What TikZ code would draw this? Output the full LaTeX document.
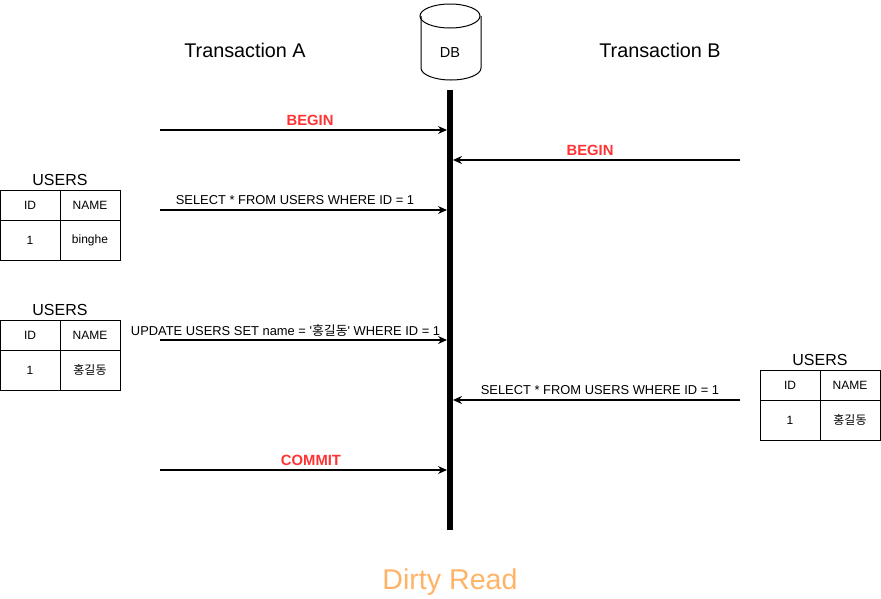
\documentclass[tikz,border=0pt]{standalone}
\usepackage{fontspec}
\setmainfont{Liberation Sans}
\newfontfamily\plainf{Liberation Sans}[Ligatures=TeXOff]
\newfontfamily\kr{Noto Sans CJK KR}
\usetikzlibrary{arrows.meta}
\definecolor{lblred}{HTML}{FF3333}
\definecolor{orng}{HTML}{FFB366}
\begin{document}
\begin{tikzpicture}[x=1pt,y=1pt,
  arr/.style={line width=1.5pt,-{Stealth[length=9pt,width=8pt,inset=3pt]}},
  lbl/.style={font=\fontsize{12.9}{15}\selectfont, inner sep=0pt},
  redlbl/.style={font=\fontsize{14.8}{17}\selectfont\bfseries, text=lblred, inner sep=0pt},
  title/.style={font=\fontsize{19.8}{23}\selectfont, inner sep=0pt},
  tname/.style={font=\fontsize{16}{18}\selectfont, inner sep=0pt},
  cell/.style={draw, line width=1pt, minimum width=60pt, inner sep=0pt, font=\fontsize{12}{14}\selectfont},
  hcell/.style={cell, minimum height=30pt},
  dcell/.style={cell, minimum height=40pt}]
\useasboundingbox (0,0) rectangle (881,-598);

% DB cylinder
\draw[line width=1pt, fill=white] (421,-16) -- (421,-68) arc[start angle=180, end angle=360, x radius=30, y radius=12] -- (481,-16);
\draw[line width=1pt] (450,-16) ellipse [x radius=30, y radius=12];
\node[font=\fontsize{14.5}{16}\selectfont] (db) at (450,-53) {DB};

% timeline
\coordinate (tltop) at (450,-90);
\coordinate (tlbot) at (450,-530);
\draw[line width=6pt] (tltop) -- (tlbot);

% titles
\node[title] (ta) at (245,-50) {Transaction A};
\node[title] (tb) at (660,-50) {Transaction B};

% arrow end points
\coordinate (a1s) at (160,-130); \coordinate (a1e) at (447,-130);
\coordinate (b1s) at (740,-160); \coordinate (b1e) at (453,-160);
\coordinate (a2s) at (160,-210); \coordinate (a2e) at (447,-210);
\coordinate (a3s) at (160,-340); \coordinate (a3e) at (447,-340);
\coordinate (b2s) at (740,-400); \coordinate (b2e) at (453,-400);
\coordinate (a4s) at (160,-470); \coordinate (a4e) at (447,-470);

\draw[arr] (a1s) -- (a1e);
\draw[arr] (b1s) -- (b1e);
\draw[arr] (a2s) -- (a2e);
\draw[arr] (a3s) -- (a3e);
\draw[arr] (b2s) -- (b2e);
\draw[arr] (a4s) -- (a4e);

\node[redlbl] (l1) at (310,-120.5) {BEGIN};
\node[redlbl] (l2) at (590,-150.5) {BEGIN};
\node[lbl] (l3) at (295,-200.5) {SELECT * FROM USERS WHERE ID = 1};
\node[lbl] (l4) at (285.5,-330.5) {UPDATE USERS SET name = {\plainf '}{\kr 홍길동}{\plainf '} WHERE ID = 1};
\node[lbl] (l5) at (600,-390.5) {SELECT * FROM USERS WHERE ID = 1};
\node[redlbl] (l6) at (311,-460.5) {COMMIT};

% table 1
\node[tname] (u1) at (60,-180) {USERS};
\node[hcell] (t1a) at (30,-205) {ID};
\node[hcell] (t1b) at (90,-205) {NAME};
\node[dcell] (t1c) at (30,-240) {1};
\node[dcell] (t1d) at (90,-240) {binghe};

% table 2
\node[tname] (u2) at (60,-310) {USERS};
\node[hcell] (t2a) at (30,-335) {ID};
\node[hcell] (t2b) at (90,-335) {NAME};
\node[dcell] (t2c) at (30,-370) {1};
\node[dcell] (t2d) at (90,-370) {\kr 홍길동};

% table 3
\node[tname] (u3) at (820,-360) {USERS};
\node[hcell] (t3a) at (790,-385) {ID};
\node[hcell] (t3b) at (850,-385) {NAME};
\node[dcell] (t3c) at (790,-420) {1};
\node[dcell] (t3d) at (850,-420) {\kr 홍길동};

% footer
\node[font=\fontsize{28.6}{32}\selectfont, text=orng, inner sep=0pt, anchor=base] (dr) at (450,-589) {Dirty Read};
\end{tikzpicture}
\end{document}
